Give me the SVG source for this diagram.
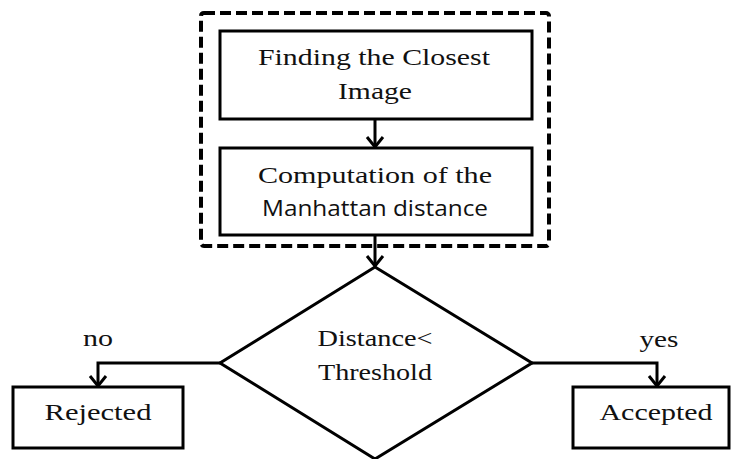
<svg xmlns="http://www.w3.org/2000/svg" width="732" height="459" viewBox="0 0 732 459">
<style>
.box{fill:#fff;stroke:#000;stroke-width:3}
.dash{fill:none;stroke:#000;stroke-width:4;stroke-dasharray:11 5}
.serif{font-family:"Liberation Serif","Times New Roman",serif;font-size:23px;fill:#111}
.sans{font-family:"Open Sans","Liberation Sans",sans-serif;font-size:21px;fill:#111}
.line{fill:none;stroke:#000;stroke-width:3}
</style>
<defs>
<marker id="arr" viewBox="0 0 20 20" refX="18" refY="10" markerWidth="20" markerHeight="20" markerUnits="userSpaceOnUse" orient="auto">
<polyline points="8,2 18,10 8,18" fill="none" stroke="#000" stroke-width="3"/>
</marker>
</defs>
<rect rx="3" class="dash" x="201" y="13" width="348" height="233"/>
<g id="finding">
<rect class="box" x="220" y="31" width="312" height="88"/>
<text class="serif" x="374" y="65" text-anchor="middle" textLength="232" lengthAdjust="spacingAndGlyphs">Finding the Closest</text>
<text class="serif" x="375" y="99" text-anchor="middle" textLength="74" lengthAdjust="spacingAndGlyphs">Image</text>
</g>
<g id="computation">
<rect class="box" x="220" y="148" width="312" height="87"/>
<text class="serif" x="375" y="183" text-anchor="middle" textLength="234" lengthAdjust="spacingAndGlyphs">Computation of the</text>
<text class="sans" x="375" y="216" text-anchor="middle" textLength="226" lengthAdjust="spacingAndGlyphs">Manhattan distance</text>
</g>
<g id="decision">
<polygon class="box" points="375,267 532,363 375,459 220,363"/>
<text class="serif" x="375" y="346" text-anchor="middle" textLength="115" lengthAdjust="spacingAndGlyphs">Distance&lt;</text>
<text class="serif" x="375" y="380" text-anchor="middle" textLength="114" lengthAdjust="spacingAndGlyphs">Threshold</text>
</g>
<g id="rejected">
<rect class="box" x="13" y="387" width="170" height="61"/>
<text class="serif" x="98" y="420" text-anchor="middle" textLength="107" lengthAdjust="spacingAndGlyphs">Rejected</text>
</g>
<g id="accepted">
<rect class="box" x="573" y="387" width="156" height="61"/>
<text class="serif" x="656" y="420" text-anchor="middle" textLength="113" lengthAdjust="spacingAndGlyphs">Accepted</text>
</g>
<g id="connectors">
<line class="line" x1="375" y1="119" x2="375" y2="147" marker-end="url(#arr)"/>
<line class="line" x1="375" y1="235" x2="375" y2="266" marker-end="url(#arr)"/>
<polyline class="line" points="220,363 98,363 98,386" marker-end="url(#arr)"/>
<polyline class="line" points="532,363 657,363 657,386" marker-end="url(#arr)"/>
<text class="serif" x="98" y="346" text-anchor="middle" textLength="30" lengthAdjust="spacingAndGlyphs">no</text>
<text class="serif" x="659" y="347" text-anchor="middle" textLength="39" lengthAdjust="spacingAndGlyphs">yes</text>
</g>
</svg>
